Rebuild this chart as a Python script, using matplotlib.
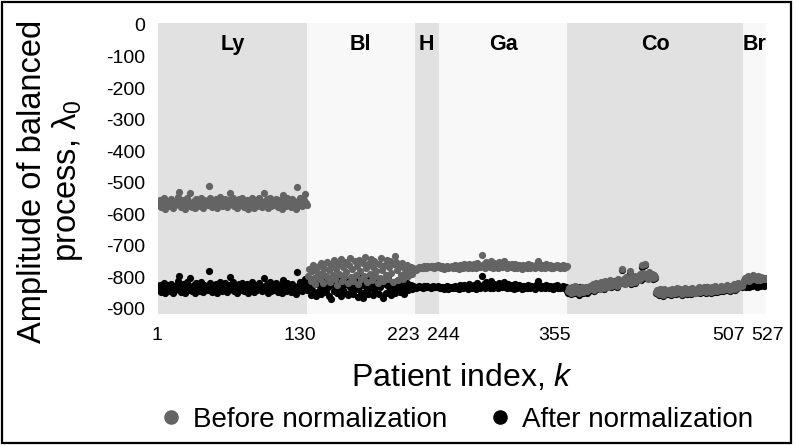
import matplotlib
matplotlib.use("Agg")
import matplotlib.pyplot as plt
from matplotlib.lines import Line2D
from matplotlib.patches import Rectangle
from matplotlib.transforms import ScaledTranslation

plt.rcParams['font.family'] = ['Liberation Sans', 'DejaVu Sans']
plt.rcParams['axes.unicode_minus'] = False
plt.rcParams['mathtext.fontset'] = 'custom'
plt.rcParams['mathtext.rm'] = 'Liberation Sans'
plt.rcParams['mathtext.it'] = 'Liberation Sans:italic'

# ---------------- data ----------------
groups = ["Ly", "Bl", "H", "Ga", "Co", "Br"]
group_bounds = [1, 130, 223, 244, 355, 507, 527]
x_ticks = [1, 130, 223, 244, 355, 507, 527]
y_ticks = [0, -100, -200, -300, -400, -500, -600, -700, -800, -900]

ly_before = [
    -560, -572, -555, -578, -566, -549, -583, -561, -570, -557,
    -575, -552, -568, -580, -563, -571, -558, -545, -528, -566,
    -577, -561, -554, -583, -569, -548, -573, -560, -533, -576,
    -564, -557, -581, -551, -570, -562, -575, -547, -566, -579,
    -555, -568, -560, -572, -512, -549, -564, -577, -558, -570,
    -553, -581, -562, -567, -546, -575, -559, -570, -551, -565,
    -578, -556, -532, -569, -561, -548, -574, -557, -580, -563,
    -552, -571, -566, -549, -576, -560, -568, -554, -583, -562,
    -570, -547, -565, -579, -556, -561, -573, -550, -567, -558,
    -576, -564, -533, -571, -553, -580, -562, -548, -574, -566,
    -559, -572, -551, -569, -577, -555, -563, -582, -540, -568,
    -557, -574, -549, -566, -561, -578, -553, -570, -564, -584,
    -515, -558, -572, -547, -567, -575, -556, -537, -563, -571]
ly_after = [
    -828, -840, -823, -846, -834, -817, -851, -829, -838, -825,
    -843, -820, -836, -848, -831, -839, -826, -813, -796, -834,
    -845, -829, -822, -851, -837, -816, -841, -828, -801, -844,
    -832, -825, -849, -819, -838, -830, -843, -815, -834, -847,
    -823, -836, -828, -840, -780, -817, -832, -845, -826, -838,
    -821, -849, -830, -835, -814, -843, -827, -838, -819, -833,
    -846, -824, -800, -837, -829, -816, -842, -825, -848, -831,
    -820, -839, -834, -817, -844, -828, -836, -822, -851, -830,
    -838, -815, -833, -847, -824, -829, -841, -818, -835, -826,
    -844, -832, -801, -839, -821, -848, -830, -816, -842, -834,
    -827, -840, -819, -837, -845, -823, -831, -850, -808, -836,
    -825, -842, -817, -834, -829, -846, -821, -838, -832, -852,
    -783, -826, -840, -815, -835, -843, -824, -805, -831, -839]

bl_before = [
    -795, -772, -812, -780, -760, -801, -822, -774, -790, -765,
    -806, -755, -786, -818, -770, -795, -750, -802, -778, -815,
    -762, -792, -745, -805, -775, -824, -757, -788, -742, -810,
    -768, -796, -752, -784, -819, -761, -738, -800, -772, -812,
    -749, -793, -764, -821, -744, -781, -804, -754, -795, -736,
    -770, -815, -758, -789, -741, -808, -766, -747, -797, -779,
    -817, -756, -801, -739, -776, -813, -761, -791, -746, -806,
    -766, -748, -786, -816, -757, -732, -752, -777, -809, -763,
    -792, -754, -804, -771, -785, -760, -796, -773, -782, -767,
    -789, -770, -776]
bl_after = [
    -838, -818, -855, -828, -808, -847, -822, -860, -812, -842,
    -826, -852, -805, -836, -819, -846, -810, -830, -858, -823,
    -868, -814, -843, -827, -800, -851, -834, -810, -859, -824,
    -840, -795, -849, -820, -856, -812, -831, -845, -806, -853,
    -825, -837, -815, -862, -832, -798, -850, -864, -823, -811,
    -842, -828, -852, -803, -835, -818, -857, -790, -846, -826,
    -809, -854, -830, -817, -821, -866, -813, -848, -824, -801,
    -843, -820, -856, -833, -814, -851, -827, -839, -808, -847,
    -824, -836, -816, -853, -829, -819, -840, -826, -834, -823,
    -837, -828, -832]

h_before = [-776, -772, -770, -768, -771, -766, -769, -765, -767, -770, -764,
            -768, -766, -763, -767, -765, -769, -764, -766, -762, -765]
h_after = [-833, -830, -832, -828, -831, -829, -833, -827, -830, -832, -828,
           -831, -829, -834, -830, -828, -832, -829, -831, -827, -830]

ga_before = [
    -768, -770, -765, -772, -767, -769, -763, -771, -766, -768,
    -764, -770, -767, -761, -769, -765, -772, -760, -766, -763,
    -770, -758, -767, -764, -771, -756, -766, -762, -769, -759,
    -765, -771, -754, -767, -761, -768, -729, -763, -757, -769,
    -751, -765, -760, -768, -748, -764, -770, -755, -766, -761,
    -769, -752, -763, -758, -767, -749, -765, -761, -770, -756,
    -764, -768, -759, -766, -771, -757, -763, -769, -760, -767,
    -765, -772, -761, -768, -763, -770, -758, -766, -769, -762,
    -767, -764, -771, -760, -766, -748, -765, -769, -761, -767,
    -763, -770, -758, -766, -768, -762, -769, -765, -771, -763,
    -767, -760, -768, -764, -770, -766, -762, -769, -765, -767,
    -763]
ga_after = [
    -833, -835, -830, -837, -832, -834, -828, -836, -831, -833,
    -829, -835, -832, -826, -834, -830, -837, -825, -831, -828,
    -835, -823, -832, -829, -836, -821, -831, -827, -834, -824,
    -830, -836, -819, -832, -826, -833, -796, -828, -822, -834,
    -816, -830, -825, -833, -813, -829, -835, -820, -831, -826,
    -834, -817, -828, -823, -832, -814, -830, -826, -835, -821,
    -829, -833, -824, -831, -836, -822, -828, -834, -825, -832,
    -830, -837, -826, -833, -828, -835, -823, -831, -834, -827,
    -832, -829, -836, -825, -831, -813, -830, -834, -826, -832,
    -828, -835, -823, -831, -833, -827, -834, -830, -836, -828,
    -832, -825, -833, -829, -835, -831, -827, -834, -830, -832,
    -842]

co_before = [
    -842, -835, -848, -831, -839, -845, -828, -840, -836, -850,
    -833, -841, -829, -846, -837, -832, -844, -830, -838, -826,
    -835, -822, -840, -827, -818, -833, -825, -838, -816, -829,
    -821, -834, -812, -826, -831, -819, -808, -828, -815, -823,
    -817, -810, -826, -805, -820, -812, -772, -815, -806, -822,
    -798, -811, -803, -781, -818, -800, -809, -795, -814, -802,
    -797, -808, -790, -803, -762, -785, -758, -799, -792, -805,
    -784, -796, -789, -801, -793, -798,
    -846, -840, -852, -838, -849, -843, -855, -836, -847, -842,
    -851, -839, -845, -853, -837, -848, -841, -850, -835, -846,
    -843, -838, -852, -840, -847, -833, -844, -849, -837, -842,
    -850, -834, -845, -839, -848, -836, -843, -830, -846,
    -838, -844, -832, -840, -847, -829, -841, -836, -845, -831,
    -839, -843, -827, -837, -842, -833, -840, -826, -836, -841,
    -830, -838, -824, -835, -829, -839, -827, -833, -822, -836,
    -826, -832, -819, -829, -823, -827, -818]
co_after = [
    -848, -840, -852, -835, -843, -850, -832, -846, -839, -855,
    -829, -845, -833, -849, -841, -836, -848, -834, -842, -830,
    -831, -826, -844, -822, -821, -837, -829, -834, -820, -833,
    -817, -838, -816, -830, -827, -823, -812, -832, -819, -827,
    -813, -814, -830, -809, -816, -816, -776, -819, -810, -818,
    -802, -815, -807, -785, -822, -804, -805, -799, -818, -806,
    -801, -804, -794, -807, -766, -789, -762, -803, -796, -801,
    -788, -800, -793, -805, -797, -802,
    -850, -843, -855, -842, -852, -846, -858, -840, -850, -845,
    -854, -842, -848, -856, -840, -851, -844, -853, -838, -849,
    -846, -841, -855, -843, -850, -836, -847, -852, -840, -845,
    -853, -837, -848, -842, -851, -839, -846, -833, -849,
    -841, -847, -835, -843, -850, -832, -844, -839, -848, -834,
    -842, -846, -830, -840, -845, -836, -843, -829, -839, -844,
    -833, -841, -827, -838, -832, -842, -830, -836, -825, -839,
    -829, -835, -822, -832, -826, -830, -821]

br_before = [-808, -801, -805, -797, -810, -803, -799, -806, -794, -804,
             -800, -807, -796, -802, -809, -798, -805, -801, -803, -806]
br_after = [-826, -820, -829, -818, -831, -823, -817, -827, -821, -825,
            -819, -830, -822, -826, -828, -820, -824, -827, -822, -825]

before = ly_before + bl_before + h_before + ga_before + co_before + br_before
after = ly_after + bl_after + h_after + ga_after + co_after + br_after
patients = list(range(1, len(before) + 1))

# ---------------- styling ----------------
W, H = 796, 445
GRAY = '#646464'
DARK_BAND = '#e1e1e1'
LIGHT_BAND = '#f8f8f8'
band_colors = [DARK_BAND, LIGHT_BAND, DARK_BAND, LIGHT_BAND, DARK_BAND, LIGHT_BAND]
tick_px_offsets = [-1, -7, -11, 5, -13, -14, 2]

fig = plt.figure(figsize=(W / 100, H / 100), dpi=100)
ax = fig.add_axes([158 / W, 1 - 314 / H, 608 / W, 291 / H])

for i, g in enumerate(groups):
    lo, hi = group_bounds[i], group_bounds[i + 1]
    ax.text((lo + hi) / 2, -63, g, ha='center', va='center',
            fontsize=15.5, fontweight='bold', zorder=5)
    ax.axvspan(lo, hi, color=band_colors[i], lw=0, zorder=0)

ax.scatter(patients, after, s=27, color='black', lw=0, zorder=2)
ax.scatter(patients, before, s=27, color=GRAY, lw=0, zorder=3)

ax.set_xlim(1, 527)
ax.set_ylim(-916, 6)
ax.set_xticks(x_ticks)
ax.set_xticklabels([str(t) for t in x_ticks])
ax.set_yticks(y_ticks)
ax.set_yticklabels([str(t) for t in y_ticks])
ax.tick_params(axis='both', length=0, labelsize=14)
ax.tick_params(axis='x', pad=9)
ax.tick_params(axis='y', pad=9)
for lab, dx in zip(ax.get_xticklabels(), tick_px_offsets):
    lab.set_transform(lab.get_transform() +
                      ScaledTranslation(dx / 100, 0, fig.dpi_scale_trans))
for s in ax.spines.values():
    s.set_visible(False)

fig.text(462 / W, 1 - 377 / H, 'Patient index, $k$', ha='center', va='center',
         fontsize=23)
fig.text(51 / W, 1 - 181 / H, 'Amplitude of balanced\nprocess, λ$_0$',
         rotation=90, ha='center', va='center', fontsize=23.5,
         multialignment='center', linespacing=1.1)

handles = [Line2D([], [], ls='', marker='o', ms=10.5, color=GRAY, mec='none'),
           Line2D([], [], ls='', marker='o', ms=10.5, color='black', mec='none')]
fig.legend(handles, ['Before normalization', 'After normalization'],
           loc='center', bbox_to_anchor=(458 / W, 1 - 420 / H), ncol=2,
           frameon=False, fontsize=20, handlelength=0.6, handletextpad=0.5,
           columnspacing=1.6, borderpad=0, borderaxespad=0)

fig.patches.append(Rectangle((2 / W, 2 / H), 789 / W, 441 / H, fill=False,
                             lw=1.6, ec='black', transform=fig.transFigure))

fig.savefig('out.png', dpi=100)
